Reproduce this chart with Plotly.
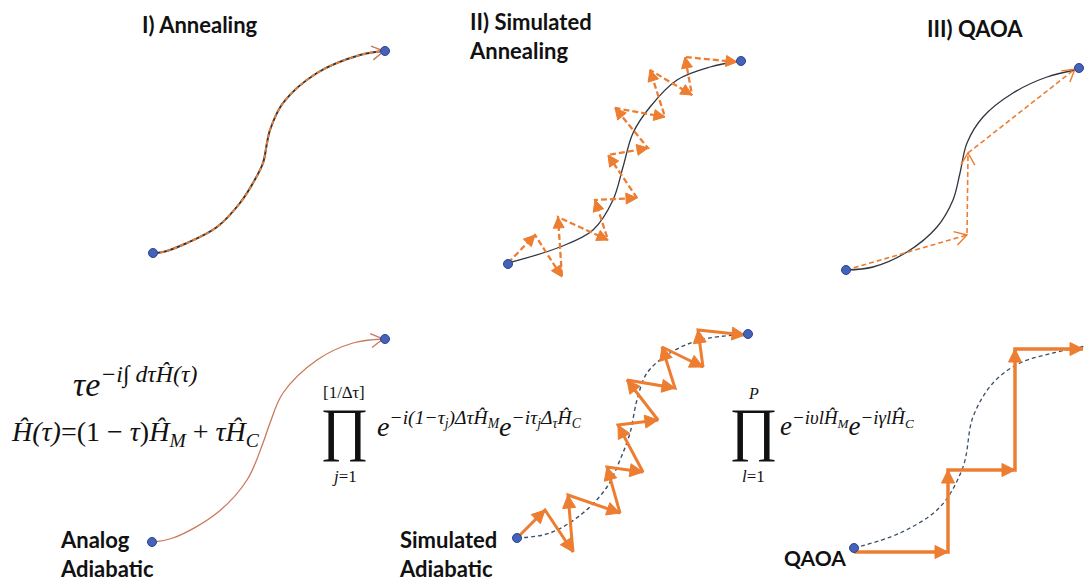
import math
import plotly.graph_objects as go

W, H = 1084, 579
ORANGE = "#ED7D31"
DARK = "#2f3640"
DOT = "#4463b8"
BROWN = "#C9785A"

# ---------------- data: paths of each panel (pixel space) ----------------
# I) Annealing
ann_curve_x = [153, 163, 187, 217, 240, 253, 263, 267, 270, 283, 317, 360, 384]
ann_curve_y = [253, 252, 243, 227, 203, 183, 163, 143, 130, 103, 73, 55, 51]

# II) Simulated annealing
sa_curve_x = [508, 560, 593, 613, 623, 633, 650, 677, 710, 740]
sa_curve_y = [263, 247, 230, 200, 167, 133, 107, 80, 67, 61]
sa_walk_x = [508, 535, 562, 558, 608, 595, 637, 608, 648, 615, 665, 650, 692, 685, 737]
sa_walk_y = [263, 235, 277, 217, 240, 200, 198, 155, 148, 108, 117, 70, 95, 57, 62]

# III) QAOA
qa_curve_x = [846, 873, 907, 937, 953, 960, 967, 983, 1013, 1047, 1076]
qa_curve_y = [270, 267, 252, 227, 200, 173, 143, 117, 93, 77, 70]
qa_walk_x = [846, 967, 968, 1075]
qa_walk_y = [270, 235, 153, 69]

# Analog adiabatic (bottom left)
aa_curve_x = [152, 173, 217, 247, 263, 270, 283, 317, 353, 383]
aa_curve_y = [542, 538, 513, 480, 443, 423, 393, 360, 343, 339]

# Simulated adiabatic (bottom middle)
sad_curve_x = [517, 550, 583, 607, 620, 630, 637, 647, 670, 700, 748]
sad_curve_y = [538, 533, 513, 487, 460, 433, 400, 373, 353, 340, 334]
sad_walk_x = [517, 545, 573, 568, 620, 607, 643, 618, 658, 627, 675, 662, 703, 698, 745]
sad_walk_y = [538, 510, 552, 495, 513, 467, 472, 425, 420, 380, 388, 347, 367, 330, 335]

# QAOA (bottom right)
qd_curve_x = [854, 900, 940, 963, 973, 993, 1020, 1053, 1086]
qd_curve_y = [548, 533, 507, 467, 417, 383, 363, 353, 346]
qd_walk_x = [854, 948, 948, 1015, 1015, 1083]
qd_walk_y = [552, 552, 470, 470, 349, 349]

dots_x = [153, 385, 508, 741, 846, 1079, 152, 385, 517, 748, 854]
dots_y = [253, 51, 264, 61, 270, 68, 542, 339, 538, 334, 548]

titles = ["I) Annealing", "II) Simulated<br>Annealing", "III) QAOA"]
labels = ["Analog<br>Adiabatic", "Simulated<br>Adiabatic", "QAOA"]

fig = go.Figure()


def line(xs, ys, color, width, dash="solid", shape="spline", smoothing=1.0):
    fig.add_trace(go.Scatter(x=xs, y=ys, mode="lines", hoverinfo="skip",
                             line=dict(color=color, width=width, dash=dash, shape=shape,
                                       smoothing=smoothing)))


def heads(xs, ys, color, length, half, filled, lw=1.5):
    px, py = [], []
    for i in range(1, len(xs)):
        x0, y0, x1, y1 = xs[i - 1], ys[i - 1], xs[i], ys[i]
        d = math.hypot(x1 - x0, y1 - y0)
        ux, uy = (x1 - x0) / d, (y1 - y0) / d
        bx, by = x1 - ux * length, y1 - uy * length
        lx, ly = bx - uy * half, by + ux * half
        rx, ry = bx + uy * half, by - ux * half
        if filled:
            px += [x1, lx, rx, x1, None]
            py += [y1, ly, ry, y1, None]
        else:
            px += [lx, x1, rx, None]
            py += [ly, y1, ry, None]
    if filled:
        fig.add_trace(go.Scatter(x=px, y=py, mode="lines", fill="toself", fillcolor=color,
                                 hoverinfo="skip", line=dict(color=color, width=1)))
    else:
        fig.add_trace(go.Scatter(x=px, y=py, mode="lines", hoverinfo="skip",
                                 line=dict(color=color, width=lw)))


# I
line(ann_curve_x, ann_curve_y, DARK, 2)
line(ann_curve_x, ann_curve_y, ORANGE, 2, dash="4px,3px")
heads(ann_curve_x[-2:], ann_curve_y[-2:], BROWN, 12, 7, False, 1.4)

# II
line(sa_curve_x, sa_curve_y, DARK, 1.3)
line(sa_walk_x, sa_walk_y, ORANGE, 2.3, dash="6px,3px", shape="linear")
heads(sa_walk_x, sa_walk_y, ORANGE, 11, 5.5, True)

# III
line(qa_curve_x, qa_curve_y, DARK, 1.3)
line(qa_walk_x, qa_walk_y, ORANGE, 1.6, dash="5px,3px", shape="linear")
heads(qa_walk_x, qa_walk_y, ORANGE, 12, 7, False, 1.4)

# analog adiabatic
line(aa_curve_x, aa_curve_y, BROWN, 1.3)
heads(aa_curve_x[-2:], aa_curve_y[-2:], BROWN, 12, 7, False, 1.3)

# simulated adiabatic
line(sad_curve_x, sad_curve_y, "#3d4f66", 1.4, dash="4px,3px")
line(sad_walk_x, sad_walk_y, ORANGE, 3, shape="linear")
heads(sad_walk_x, sad_walk_y, ORANGE, 13, 6.5, True)

# QAOA bottom
line(qd_curve_x, qd_curve_y, "#3d4f66", 1.3, dash="4px,3px")
line(qd_walk_x, qd_walk_y, ORANGE, 3.5, shape="linear")
heads(qd_walk_x, qd_walk_y, ORANGE, 13, 6.5, True)

# dots
fig.add_trace(go.Scatter(x=dots_x, y=dots_y, mode="markers", hoverinfo="skip",
                         marker=dict(color=DOT, size=9, line=dict(color="#2c4390", width=1))))

SANS = "Lato, 'Open Sans', sans-serif"
SERIF = "'Liberation Serif', 'DejaVu Serif', serif"


def txt(x, y, s, size, family=SANS, xanchor="center", yanchor="middle", align="center", color="#111"):
    fig.add_annotation(x=x, y=y, text=s, showarrow=False, xref="x", yref="y",
                       xanchor=xanchor, yanchor=yanchor, align=align,
                       font=dict(family=family, size=size, color=color))


# titles
txt(200, 24, "<b>" + titles[0] + "</b>", 22)
txt(467, 36, "<b>" + titles[1] + "</b>", 22, xanchor="left", align="left")
txt(975, 28, "<b>" + titles[2] + "</b>", 22)

# bottom labels
txt(58, 554, "<b>" + labels[0] + "</b>", 22, xanchor="left", align="left")
txt(397, 554, "<b>" + labels[1] + "</b>", 22, xanchor="left", align="left")
txt(848, 557, "<b>" + labels[2] + "</b>", 21, xanchor="right", align="right")

# equations
txt(135, 382, "<i>τe<sup>−i∫ dτĤ(τ)</sup></i>", 34, family=SERIF)
txt(135, 433, "<i>Ĥ(τ)</i>=(1 − <i>τ</i>)<i>Ĥ<sub>M</sub></i> + <i>τĤ<sub>C</sub></i>", 28, family=SERIF)

txt(344, 429, "∏", 59, family=SERIF)
txt(344, 392, "[1/∆τ]", 17, family=SERIF)
txt(344, 476, "<i>j</i>=1", 17, family=SERIF)
txt(375, 424, "<i>e<sup>−i(1−τ<sub>j</sub>)ΔτĤ<sub>M</sub></sup>e<sup>−iτ<sub>j</sub>Δ<sub>τ</sub>Ĥ<sub>C</sub></sup></i>",
    28, family=SERIF, xanchor="left")

txt(753, 429, "∏", 59, family=SERIF)
txt(753, 393, "<i>P</i>", 16, family=SERIF)
txt(753, 476, "<i>l</i>=1", 17, family=SERIF)
txt(778, 424, "<i>e<sup>−iυlĤ<sub>M</sub></sup>e<sup>−iγlĤ<sub>C</sub></sup></i>", 27,
    family=SERIF, xanchor="left")

fig.update_layout(width=W, height=H, margin=dict(l=0, r=0, t=0, b=0),
                  paper_bgcolor="white", plot_bgcolor="white", showlegend=False,
                  xaxis=dict(range=[0, W], visible=False, fixedrange=True),
                  yaxis=dict(range=[H, 0], visible=False, fixedrange=True))

fig.write_html("out.html", post_script="document.body.style.margin='0';",
               config={"displayModeBar": False, "staticPlot": True})
